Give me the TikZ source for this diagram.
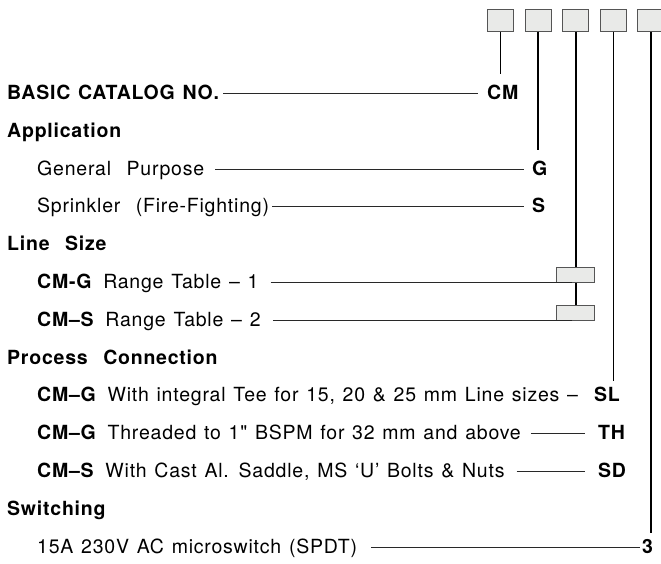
\documentclass[tikz,border=0pt]{standalone}
\usepackage{fontspec}
\setmainfont{TeX Gyre Heros}[LetterSpace=4, WordSpace=1.25, Ligatures=TeXOff]
\usetikzlibrary{positioning}
\definecolor{boxfill}{RGB}{233,234,232}
\definecolor{boxline}{RGB}{85,85,85}
\definecolor{leadgray}{RGB}{40,40,40}
\newcommand{\cmcode}[1]{\textbf{#1}\hspace{11pt}}

\begin{document}
\begin{tikzpicture}[x=1pt, y=-1pt,
    txt/.style={inner sep=0pt, anchor=base west, text height=12pt, text depth=0pt, font=\fontsize{19.5}{22}\selectfont},
    head/.style={txt, font=\fontsize{19.5}{22}\selectfont\bfseries},
    code/.style={head},
    sqbox/.style={rectangle, draw=boxline, fill=boxfill, minimum width=26pt, minimum height=22pt, inner sep=0pt, line width=1pt},
    lbox/.style={rectangle, draw=boxline, fill=boxfill, minimum width=38pt, minimum height=15pt, inner sep=0pt, line width=1pt},
    lead/.style={leadgray, line width=1pt},
    stem/.style={black, line width=1.6pt},
]
\useasboundingbox (0,0) rectangle (661,563);

% Code boxes
\node[sqbox] (b1) at (500.5,20) {};
\node[sqbox] (b2) at (538.1,20) {};
\node[sqbox] (b3) at (575.7,20) {};
\node[sqbox] (b4) at (613.3,20) {};
\node[sqbox] (b5) at (650.9,20) {};

% Basic catalog no.
\node[head] (bcn) at (7,99.5) {BASIC CATALOG NO.};
\node[code] (cm) at (487,99.5) {CM};

% Application
\node[head] (app) at (7,137.3) {Application};
\node[txt] (gp) at (37,175.1) {General~~Purpose};
\node[code] (gpc) at (532,175.1) {G};
\node[txt] (sp) at (37,212.9) {Sprinkler~~(Fire-Fighting)};
\node[code] (spc) at (532,212.9) {S};

% Line size
\node[head] (ls) at (7,250.7) {Line~~Size};
\node[txt] (rt1) at (37,288.5) {\cmcode{CM-G}Range Table – 1};
\node[txt] (rt2) at (37,326.3) {\cmcode{CM–S}Range Table – 2};
\node[lbox] (lb1) at (575.7,275) {};
\node[lbox] (lb2) at (575.7,312.8) {};

% Process connection
\node[head] (pc) at (7,364.1) {Process~~Connection};
\node[txt] (tee) at (37,401.9) {\cmcode{CM–G}With integral Tee for 15, 20 \& 25 mm Line sizes –};
\node[code] (teec) at (594,401.9) {SL};
\node[txt] (thr) at (37,439.7) {\cmcode{CM–G}Threaded to 1" BSPM for 32 mm and above};
\node[code] (thrc) at (598,439.7) {TH};
\node[txt] (sad) at (37,477.5) {\cmcode{CM–S}With Cast Al. Saddle, MS ‘U’ Bolts \& Nuts};
\node[code] (sadc) at (598,477.5) {SD};

% Switching
\node[head] (sw) at (7,515.3) {Switching};
\node[txt] (ms) at (37,553.1) {15A 230V AC microswitch (SPDT)};
\node[code] (msc) at (642,553.1) {3};

% Leaders
\draw[lead, shorten <=4pt, shorten >=9pt] (bcn) -- (cm);
\draw[lead, shorten <=11pt, shorten >=8pt] (gp) -- (gpc);
\draw[lead, shorten <=3pt, shorten >=8pt] (sp) -- (spc);
\draw[lead, shorten <=12pt, shorten >=4pt] (rt1) -- (rt1 -| lb1.south);
\draw[lead, shorten <=12pt, shorten >=4pt] (rt2) -- (rt2 -| lb2.south);
\draw[lead, shorten <=10pt, shorten >=13pt] (thr) -- (thrc);
\draw[lead, shorten <=12pt, shorten >=13pt] (sad) -- (sadc);
\draw[lead, shorten <=14pt, shorten >=2pt] (ms) -- (msc);

% Stems
\draw[stem, shorten >=13pt] (b1.south) -- (b1.south |- cm.north);
\draw[stem, shorten >=13pt] (b2.south) -- (b2.south |- gpc.north);
\draw[stem] (b3.south) -- (lb1.north);
\draw[stem] (lb1.south) -- (lb2.north);
\draw[stem, shorten >=9pt] (b4.south) -- (b4.south |- teec.north);
\draw[stem, shorten >=8pt] (b5.south) -- (b5.south |- msc.north);
\end{tikzpicture}
\end{document}
